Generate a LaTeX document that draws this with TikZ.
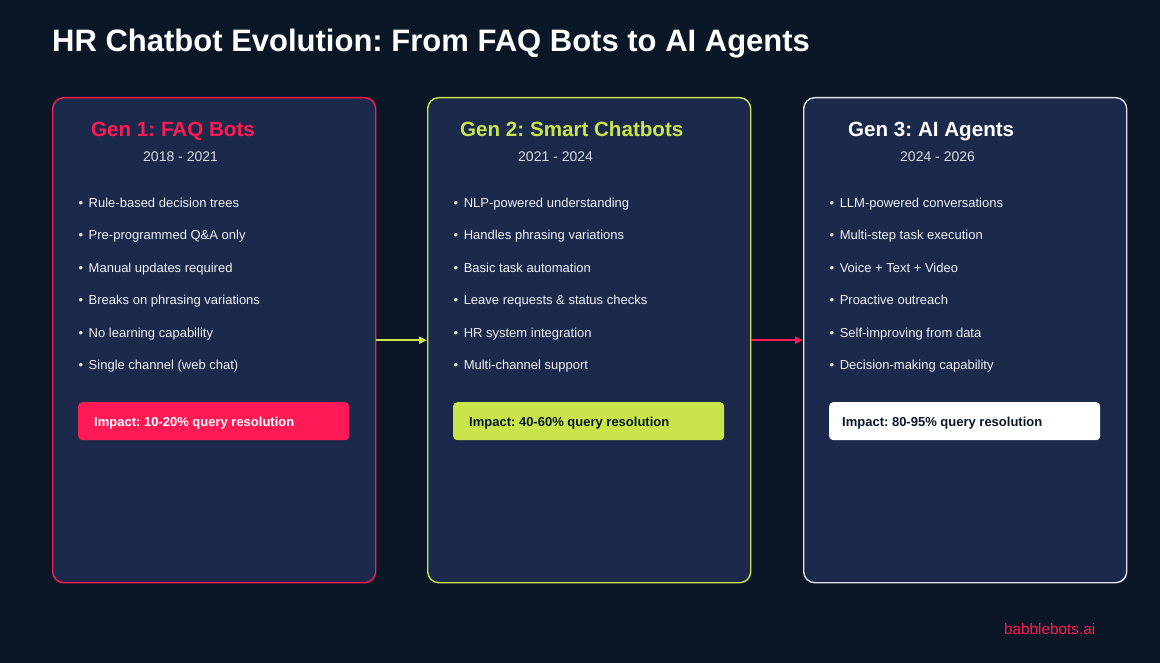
\documentclass[tikz,border=0pt]{standalone}
\usepackage{fontspec}
\setmainfont{Liberation Sans}
\frenchspacing
\usetikzlibrary{arrows.meta}
\definecolor{bg}{HTML}{0B1627}
\definecolor{card}{HTML}{1B2A4B}
\definecolor{pink}{HTML}{FF1A55}
\definecolor{lime}{HTML}{C8E64B}
\definecolor{wborder}{HTML}{DDE3EE}
\definecolor{txt}{HTML}{EEF1F5}
\definecolor{yr}{HTML}{D8DCE3}
\definecolor{darktxt}{HTML}{0B1627}
\tikzset{
  cardbox/.style={draw=#1, line width=1.4pt, fill=card, rounded corners=11pt, minimum width=323pt, minimum height=485pt, anchor=north west, inner sep=0pt},
  gentitle/.style={anchor=base west, inner sep=0pt, font=\fontsize{20.6}{25}\selectfont\bfseries, text=#1},
  years/.style={anchor=base west, inner sep=0pt, font=\fontsize{14}{16}\selectfont, text=yr},
  bullet/.style={anchor=base west, inner sep=0pt, font=\fontsize{13}{15}\selectfont, text=txt},
  impact/.style={fill=#1, rounded corners=4pt, minimum width=271pt, minimum height=38pt, anchor=north west, inner sep=0pt},
  impacttext/.style={anchor=base west, inner sep=0pt, font=\fontsize{13}{15}\selectfont\bfseries, text=#1},
  flow/.style={draw=#1, line width=1.8pt, -{Triangle[length=8pt,width=7pt]}}
}
\begin{document}
\begin{tikzpicture}[x=1pt,y=-1pt]
\useasboundingbox[fill=bg] (0,0) rectangle (1160,663);
\node[anchor=base west, inner sep=0pt, text=white, font=\fontsize{31}{34}\selectfont\bfseries] (title) at (52,52) {HR Chatbot Evolution: From FAQ Bots to AI Agents};

% cards
\node[cardbox=pink] (c1) at (52,97) {};
\node[cardbox=lime] (c2) at (427,97) {};
\node[cardbox=wborder] (c3) at (803,97) {};

% titles
\node[gentitle=pink] (t1) at (91,136.5) {Gen 1: FAQ Bots};
\node[years] (y1) at (143,162) {2018 - 2021};
\node[gentitle=lime] (t2) at (460,136.5) {Gen 2: Smart Chatbots};
\node[years] (y2) at (518,162) {2021 - 2024};
\node[gentitle=white] (t3) at (848,136.5) {Gen 3: AI Agents};
\node[years] (y3) at (900,162) {2024 - 2026};

% bullets
\foreach \t [count=\i] in {Rule-based decision trees, Pre-programmed Q\&A only, Manual updates required, Breaks on phrasing variations, No learning capability, Single channel (web chat)}
  \node[bullet] (a\i) at (78.5,{202+5.5+(\i-1)*32.4}) {•\hspace{5.5pt}\t};
\foreach \t [count=\i] in {NLP-powered understanding, Handles phrasing variations, Basic task automation, Leave requests \& status checks, HR system integration, Multi-channel support}
  \node[bullet] (b\i) at (453.5,{202+5.5+(\i-1)*32.4}) {•\hspace{5.5pt}\t};
\foreach \t [count=\i] in {LLM-powered conversations, Multi-step task execution, Voice + Text + Video, Proactive outreach, Self-improving from data, Decision-making capability}
  \node[bullet] (d\i) at (829.5,{202+5.5+(\i-1)*32.4}) {•\hspace{5.5pt}\t};

% impact boxes
\node[impact=pink] (i1) at (78,402) {};
\node[impacttext=white] (it1) at (94,426) {Impact: 10-20\% query resolution};
\node[impact=lime] (i2) at (453,402) {};
\node[impacttext=darktxt] (it2) at (469,426) {Impact: 40-60\% query resolution};
\node[impact=white] (i3) at (829,402) {};
\node[impacttext=darktxt] (it3) at (842,426) {Impact: 80-95\% query resolution};

% arrows
\draw[flow=lime] (c1.east) -- (c2.west);
\draw[flow=pink] (c2.east) -- (c3.west);

\node[anchor=base west, inner sep=0pt, text=pink, font=\fontsize{15.3}{17}\selectfont] (brand) at (1004,634.5) {babblebots.ai};
\end{tikzpicture}
\end{document}
